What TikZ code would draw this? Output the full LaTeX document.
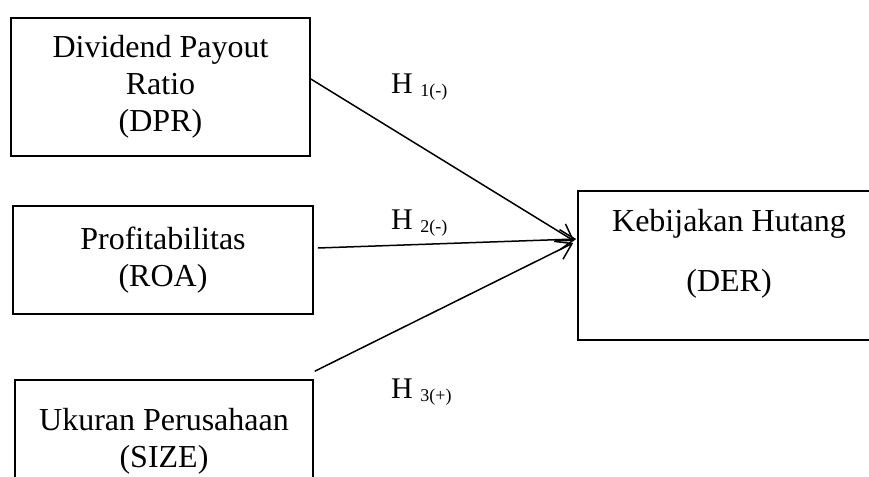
\documentclass[tikz,border=0pt]{standalone}
\usepackage{fontspec}
\setmainfont{Liberation Serif}
\usetikzlibrary{arrows.meta}
\begin{document}
\begin{tikzpicture}[x=1pt,y=-1pt,
  box/.style={draw,line width=1.6pt,inner sep=0pt,align=center,font=\fontsize{32}{37}\selectfont},
  txt/.style={inner sep=0pt,align=center,font=\fontsize{32}{37}\selectfont},
  link/.style={line width=1.5pt,-{Straight Barb[length=15pt,width=20pt,line width=1.5pt]}},
  hyp/.style={anchor=base west,inner sep=0pt,font=\fontsize{30}{30}\selectfont}]
\useasboundingbox (0,0) rectangle (869,476);
\clip (0,0) rectangle (869,476);
\node[box,minimum width=299pt,minimum height=138pt] (dpr) at (160.5,87) {Dividend Payout\\Ratio\\(DPR)};
\node[box,minimum width=300pt,minimum height=108pt] (roa) at (163,260) {Profitabilitas\\(ROA)};
\node[box,minimum width=298pt,minimum height=122pt] (size) at (164,441) {Ukuran Perusahaan\\(SIZE)};
\node[box,minimum width=302pt,minimum height=149pt] (der) at (729,265.5) {};
\node[txt] (dertxt) at (729,254) {Kebijakan Hutang\\[23pt](DER)};
\draw[link] ([yshift=8pt]dpr.east) -- ([xshift=-3pt,yshift=24.5pt]der.west);
\draw[link] ([xshift=4pt,yshift=12pt]roa.east) -- ([xshift=-1pt,yshift=26.5pt]der.west);
\draw[link] ([xshift=1pt,yshift=8pt]size.north east) -- ([xshift=-4pt,yshift=22.5pt]der.west);
\node[hyp] (h1) at (391,94) {H \raisebox{-3pt}{\fontsize{18}{18}\selectfont 1(-)}};
\node[hyp] (h2) at (391,229) {H \raisebox{-3pt}{\fontsize{18}{18}\selectfont 2(-)}};
\node[hyp] (h3) at (391,398) {H \raisebox{-3pt}{\fontsize{18}{18}\selectfont 3(+)}};
\end{tikzpicture}
\end{document}
